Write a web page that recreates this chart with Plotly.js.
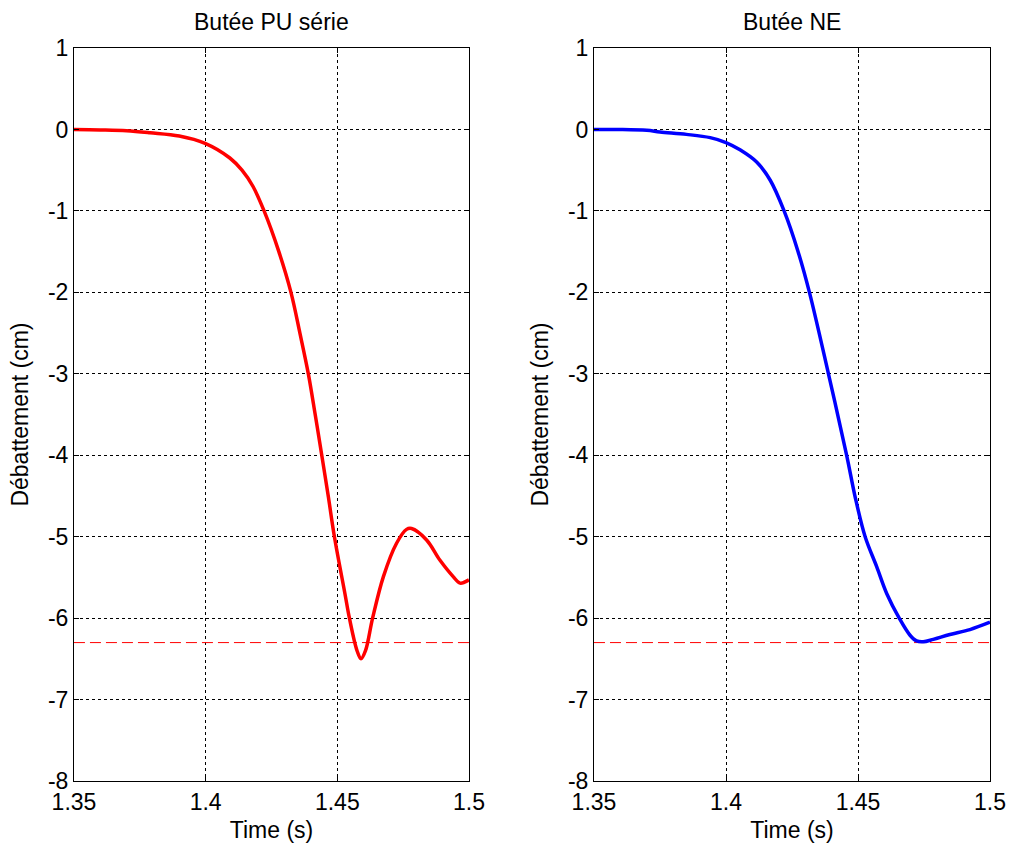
<!DOCTYPE html>
<html>
<head>
<meta charset="utf-8">
<script src="https://cdn.plot.ly/plotly-3.0.1.min.js"></script>
<style>html,body{margin:0;padding:0;background:#fff;}#chart{width:1009px;height:843px;}</style>
</head>
<body>
<div id="chart"></div>
<script>
// Left panel: Butée PU série (red)
var timePU = [1.35, 1.36, 1.37, 1.3789, 1.39, 1.3998, 1.4092, 1.4138, 1.418, 1.4222, 1.4278, 1.4324, 1.4358, 1.4390, 1.4416, 1.4441, 1.4466, 1.4489, 1.4529, 1.4546, 1.4575, 1.459, 1.4607, 1.4634, 1.4675, 1.4725, 1.4763, 1.4782, 1.4839, 1.489, 1.494, 1.4966, 1.5];
var debPU  = [0, -0.005, -0.015, -0.04, -0.08, -0.17, -0.35, -0.5, -0.7, -1.0, -1.5, -2.0, -2.5, -3.0, -3.5, -4.0, -4.51, -5.0, -5.7, -6.0, -6.4, -6.5, -6.4, -6.0, -5.49, -5.08, -4.91, -4.9, -5.04, -5.29, -5.49, -5.57, -5.53];

// Right panel: Butée NE (blue)
var timeNE = [1.35, 1.36, 1.37, 1.375, 1.385, 1.394, 1.40, 1.4053, 1.4116, 1.4167, 1.4220, 1.4273, 1.4316, 1.4388, 1.4457, 1.4489, 1.4527, 1.4571, 1.4609, 1.4656, 1.4697, 1.4722, 1.4747, 1.4785, 1.4848, 1.4924, 1.5];
var debNE  = [0, 0, -0.01, -0.03, -0.06, -0.1, -0.16, -0.25, -0.4, -0.62, -1.0, -1.5, -2.0, -3.0, -4.0, -4.51, -5.0, -5.37, -5.70, -6.0, -6.21, -6.28, -6.29, -6.26, -6.2, -6.14, -6.05];

// Limit line
var limitTime = [1.35, 1.5];
var limitValue = [-6.3, -6.3];

var panelTitles = ["Butée PU série", "Butée NE"];
var xTitle = "Time (s)";
var yTitle = "Débattement (cm)";
var xTicks = [1.35, 1.4, 1.45, 1.5];
var xTickText = ["1.35", "1.4", "1.45", "1.5"];
var yTicks = [-8, -7, -6, -5, -4, -3, -2, -1, 0, 1];
var yTickText = ["-8", "-7", "-6", "-5", "-4", "-3", "-2", "-1", "0", "1"];

var FONT = "Arial, 'Liberation Sans', sans-serif";

var traces = [
  {x: limitTime, y: limitValue, xaxis: 'x', yaxis: 'y', mode: 'lines', line: {color: '#ff0000', width: 1, dash: '11px,5px'}, hoverinfo: 'skip'},
  {x: timePU, y: debPU, xaxis: 'x', yaxis: 'y', mode: 'lines', line: {color: '#ff0000', width: 3.5, shape: 'spline', smoothing: 1}},
  {x: limitTime, y: limitValue, xaxis: 'x2', yaxis: 'y2', mode: 'lines', line: {color: '#ff0000', width: 1, dash: '11px,5px'}, hoverinfo: 'skip'},
  {x: timeNE, y: debNE, xaxis: 'x2', yaxis: 'y2', mode: 'lines', line: {color: '#0000ff', width: 3.5, shape: 'spline', smoothing: 1}}
];

function xax(dom, anchor) {
  return {
    domain: dom, anchor: anchor, range: [1.35, 1.5],
    tickvals: xTicks, ticktext: xTickText,
    showgrid: true, gridcolor: '#000', griddash: 'dot', gridwidth: 1,
    showline: true, linecolor: '#000', linewidth: 1, mirror: 'ticks',
    ticks: 'inside', ticklen: 5, tickcolor: '#000',
    zeroline: false,
    tickfont: {family: FONT, size: 23, color: '#000'},
    title: {text: xTitle, font: {family: FONT, size: 23, color: '#000'}, standoff: 8}
  };
}
function yax(anchor) {
  return {
    domain: [0.0735, 0.943], anchor: anchor, range: [-8, 1],
    tickvals: yTicks, ticktext: yTickText,
    showgrid: true, gridcolor: '#000', griddash: 'dot', gridwidth: 1,
    showline: true, linecolor: '#000', linewidth: 1, mirror: 'ticks',
    ticks: 'inside', ticklen: 5, tickcolor: '#000',
    zeroline: false,
    tickfont: {family: FONT, size: 23, color: '#000'},
    title: {text: yTitle, font: {family: FONT, size: 23, color: '#000'}, standoff: 12}
  };
}

var layout = {
  width: 1009, height: 843,
  margin: {l: 0, r: 0, t: 0, b: 0},
  paper_bgcolor: '#fff', plot_bgcolor: '#fff',
  showlegend: false,
  xaxis: xax([0.0733, 0.4648], 'y'),
  yaxis: yax('x'),
  xaxis2: xax([0.5887, 0.9812], 'y2'),
  yaxis2: yax('x2'),
  annotations: [
    {text: panelTitles[0], xref: 'paper', yref: 'paper', x: (0.0733 + 0.4648) / 2, y: 1 - 22 / 843, xanchor: 'center', yanchor: 'middle', showarrow: false, font: {family: FONT, size: 23, color: '#000'}},
    {text: panelTitles[1], xref: 'paper', yref: 'paper', x: (0.5887 + 0.9812) / 2, y: 1 - 22 / 843, xanchor: 'center', yanchor: 'middle', showarrow: false, font: {family: FONT, size: 23, color: '#000'}}
  ]
};

Plotly.newPlot('chart', traces, layout, {displayModeBar: false, staticPlot: true});
</script>
</body>
</html>
